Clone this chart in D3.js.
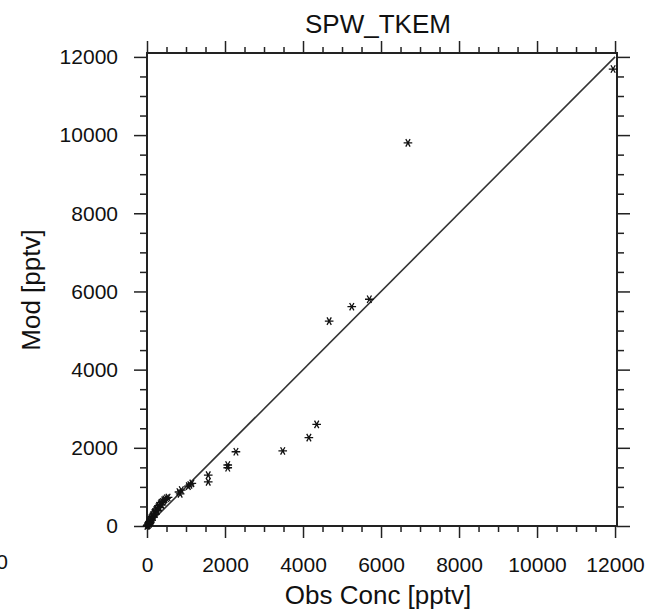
<!DOCTYPE html>
<html>
<head>
<meta charset="utf-8">
<script src="https://d3js.org/d3.v7.min.js"></script>
<style>
  body { margin: 0; background: #fff; }
  text { font-family: "Liberation Sans", Arial, Helvetica, sans-serif; fill: #111; }
</style>
</head>
<body>
<div id="scatter_viz"></div>
<script>
  // data (pptv)
  var obsConc = [0, 10, 20, 30, 40, 50, 60, 70, 80, 90, 100, 110, 120, 130, 150, 160, 180, 200, 210, 230,
                 250, 260, 280, 300, 320, 340, 360, 380, 400, 430, 460, 500, 540,
                 820, 850, 880, 1060, 1100, 1150, 1570, 1570, 2070, 2070, 2280,
                 3480, 4150, 4350, 4670, 5250, 5700, 6690, 11950];
  var modConc = [0, 15, 30, 20, 60, 80, 50, 110, 130, 100, 170, 200, 150, 240, 280, 230, 330, 360, 300, 410,
                 440, 390, 480, 520, 470, 560, 600, 540, 620, 660, 680, 710, 730,
                 870, 820, 920, 1020, 1050, 1090, 1300, 1130, 1560, 1490, 1900,
                 1920, 2260, 2600, 5240, 5610, 5800, 9800, 11690];
  var xTicks = [0, 2000, 4000, 6000, 8000, 10000, 12000];
  var yTicks = [0, 2000, 4000, 6000, 8000, 10000, 12000];
  var oneToOne = [0, 12000];

  var margin = {top: 53, right: 31, bottom: 90, left: 147},
      width = 648 - margin.left - margin.right,
      height = 616 - margin.top - margin.bottom;

  var svg = d3.select("#scatter_viz")
    .append("svg")
      .attr("width", 648)
      .attr("height", 616)

  var g = svg.append("g")
      .attr("transform", "translate(" + margin.left + "," + margin.top + ")");

  var x = d3.scaleLinear().domain([0, 12050]).range([0, width]);
  var y = d3.scaleLinear().domain([0, 12100]).range([height, 0]);

  var minorX = d3.range(0, 12001, 500).filter(function (d) { return xTicks.indexOf(d) < 0; });
  var minorY = d3.range(0, 12001, 500).filter(function (d) { return yTicks.indexOf(d) < 0; });

  // axes on all four sides, ticks pointing out
  function styleAxis(sel) {
    sel.select(".domain").remove();
    sel.selectAll("line").attr("stroke", "#222").attr("stroke-width", 1.5);
    sel.selectAll("text").style("font-size", "21px").attr("fill", "#111");
  }

  g.append("g").attr("transform", "translate(0," + height + ")")
    .call(d3.axisBottom(x).tickValues(xTicks).tickSize(12).tickPadding(19).tickFormat(d3.format("d")))
    .call(styleAxis);
  g.append("g").attr("transform", "translate(0," + height + ")")
    .call(d3.axisBottom(x).tickValues(minorX).tickSize(6).tickFormat(""))
    .call(styleAxis);
  g.append("g")
    .call(d3.axisLeft(y).tickValues(yTicks).tickSize(13).tickPadding(16).tickFormat(d3.format("d")))
    .call(styleAxis);
  g.append("g")
    .call(d3.axisLeft(y).tickValues(minorY).tickSize(7).tickFormat(""))
    .call(styleAxis);
  g.append("g")
    .call(d3.axisTop(x).tickValues(xTicks).tickSize(12).tickFormat(""))
    .call(styleAxis);
  g.append("g")
    .call(d3.axisTop(x).tickValues(minorX).tickSize(6).tickFormat(""))
    .call(styleAxis);
  g.append("g").attr("transform", "translate(" + width + ",0)")
    .call(d3.axisRight(y).tickValues(yTicks).tickSize(13).tickFormat(""))
    .call(styleAxis);
  g.append("g").attr("transform", "translate(" + width + ",0)")
    .call(d3.axisRight(y).tickValues(minorY).tickSize(7).tickFormat(""))
    .call(styleAxis);

  // frame
  g.append("rect")
    .attr("width", width)
    .attr("height", height)
    .attr("fill", "none")
    .attr("stroke", "#222")
    .attr("stroke-width", 2);

  // 1:1 line
  g.append("line")
    .attr("x1", x(oneToOne[0])).attr("y1", y(oneToOne[0]))
    .attr("x2", x(oneToOne[1])).attr("y2", y(oneToOne[1]))
    .attr("stroke", "#333")
    .attr("stroke-width", 1.6);

  // points
  var asterisk = d3.symbol().type(d3.symbolAsterisk).size(52);
  g.append("g")
    .selectAll("path")
    .data(obsConc)
    .enter()
    .append("path")
      .attr("d", asterisk)
      .attr("transform", function (d, i) { return "translate(" + x(d) + "," + y(modConc[i]) + ") rotate(90)"; })
      .attr("fill", "none")
      .attr("stroke", "#111")
      .attr("stroke-width", 1.3);

  // titles
  svg.append("text")
    .attr("x", 378).attr("y", 33)
    .attr("text-anchor", "middle")
    .style("font-size", "26px")
    .text("SPW_TKEM");

  svg.append("text")
    .attr("x", 378).attr("y", 604)
    .attr("text-anchor", "middle")
    .style("font-size", "26px")
    .text("Obs Conc [pptv]");

  svg.append("text")
    .attr("transform", "translate(40,290) rotate(-90)")
    .attr("text-anchor", "middle")
    .style("font-size", "26px")
    .text("Mod [pptv]");

  // clipped label of the neighbouring panel at the left edge
  svg.append("text")
    .attr("x", 8).attr("y", 569)
    .attr("text-anchor", "end")
    .style("font-size", "21px")
    .text("12000");
</script>
</body>
</html>
